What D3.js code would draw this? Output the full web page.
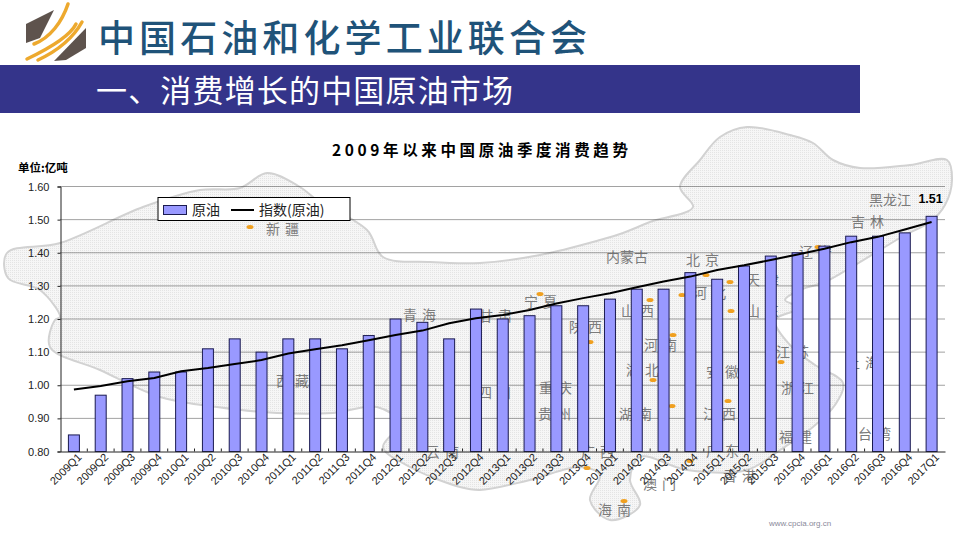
<!DOCTYPE html>
<html><head><meta charset="utf-8">
<script src="https://cdn.jsdelivr.net/npm/d3@7"></script>
<style>
html,body{margin:0;padding:0;background:#fff}
svg{display:block}
text{font-family:"Liberation Sans",Arial,sans-serif}
.cjk{font-family:"Noto Sans CJK SC",sans-serif}
</style></head><body><svg id="c" width="960" height="540"></svg>
<script>
const categories=["2009Q1","2009Q2","2009Q3","2009Q4","2010Q1","2010Q2","2010Q3","2010Q4","2011Q1","2011Q2","2011Q3","2011Q4","2012Q1","2012Q2","2012Q3","2012Q4","2013Q1","2013Q2","2013Q3","2013Q4","2014Q1","2014Q2","2014Q3","2014Q4","2015Q1","2015Q2","2015Q3","2015Q4","2016Q1","2016Q2","2016Q3","2016Q4","2017Q1"];
const crude=[0.85,0.97,1.02,1.04,1.04,1.11,1.14,1.10,1.14,1.14,1.11,1.15,1.20,1.19,1.14,1.23,1.20,1.21,1.24,1.24,1.26,1.29,1.29,1.34,1.32,1.36,1.39,1.40,1.42,1.45,1.45,1.46,1.51];
const trend=[0.987,0.998,1.012,1.022,1.042,1.052,1.064,1.076,1.096,1.109,1.121,1.136,1.152,1.165,1.187,1.202,1.212,1.227,1.247,1.263,1.278,1.296,1.313,1.328,1.348,1.362,1.378,1.395,1.412,1.432,1.448,1.470,1.493];
const yTicks=[0.8,0.9,1.0,1.1,1.2,1.3,1.4,1.5,1.6];
const orgName="中国石油和化学工业联合会", heading="一、消费增长的中国原油市场", chartTitle="2009年以来中国原油季度消费趋势", unit="单位:亿吨";
const seriesNames=["原油","指数(原油)"];

// Decorative background map (not data)
const mapOutline=[[7,253],[60,243],[143,207],[200,190],[240,188],[267,173],[300,187],[317,200],[367,230],[383,257],[430,262],[480,263],[540,255],[600,240],[623,233],[650,222],[693,207],[680,187],[700,160],[720,137],[747,127],[790,135],[813,143],[833,160],[860,168],[910,165],[947,160],[952,180],[945,205],[930,222],[905,235],[880,250],[850,268],[825,282],[800,290],[785,300],[800,308],[775,320],[790,345],[815,365],[843,383],[835,405],[813,427],[780,450],[747,470],[687,470],[640,457],[630,480],[640,505],[610,520],[590,500],[600,475],[580,467],[530,480],[480,490],[460,487],[410,467],[383,447],[400,423],[377,407],[333,413],[277,413],[217,407],[160,397],[100,370],[50,347],[55,320],[60,317],[40,290],[8,278]];
const mapLabels=[["新疆",285,229],["西藏",295,381],["青海",422,315],["甘肃",498,316],["宁夏",543,302],["内蒙古",627,257],["北京",705,260],["天津",765,280],["河北",712,293],["山西",640,311],["山东",765,311],["陕西",588,327],["河南",663,345],["吉林",870,222],["黑龙江",890,200],["辽宁",818,252],["江苏",795,352],["上海",865,363],["安徽",725,372],["湖北",645,370],["四川",497,393],["重庆",558,388],["浙江",800,388],["贵州",557,414],["湖南",638,414],["江西",722,414],["福建",798,437],["台湾",877,434],["云南",445,452],["广西",600,452],["广东",725,451],["香港",742,476],["澳门",662,484],["海南",617,510]];
const mapDots=[[250,227],[540,294],[650,300],[706,275],[730,282],[682,295],[731,311],[590,342],[673,335],[653,380],[672,406],[728,401],[781,362],[818,247],[690,461],[587,468],[624,501]];

const svg=d3.select("#c");
const defs=svg.append("defs");
const pat=defs.append("pattern").attr("id","st").attr("width",2).attr("height",2).attr("patternUnits","userSpaceOnUse");
pat.append("rect").attr("width",2).attr("height",2).attr("fill","#f6f6f6");
pat.append("rect").attr("width",1).attr("height",1).attr("fill","#e4e4e4");

// map
svg.append("path").attr("d",d3.line().curve(d3.curveCatmullRomClosed.alpha(.5))(mapOutline))
  .attr("fill","url(#st)").attr("stroke","#d2d2d2").attr("stroke-width",2);
svg.append("g").selectAll("text").data(mapLabels).join("text").attr("class","cjk")
  .attr("x",d=>d[1]).attr("y",d=>d[2]).attr("dy","0.36em").attr("text-anchor","middle")
  .attr("font-size",14).attr("letter-spacing",d=>d[0].length==2?5:0).attr("fill","#7b7b7b").text(d=>d[0]);
svg.append("g").selectAll("ellipse").data(mapDots).join("ellipse")
  .attr("cx",d=>d[0]).attr("cy",d=>d[1]).attr("rx",3.5).attr("ry",2).attr("fill","#f0a020");

// header
const logo=svg.append("g");
logo.append("path").attr("d","M26 24L54 10L40 38L26 43Z").attr("fill","#5e534d");
logo.append("path").attr("d","M54 61L86 28V48L66 60Z").attr("fill","#5e534d");
logo.append("g").attr("fill","none").attr("stroke","#eda92e").attr("stroke-linecap","round")
 .selectAll("path").data(["M34 44C50 38 62 22 68 4","M27 59C50 48 70 36 76 24","M38 60C55 52 72 40 82 22"]).join("path")
 .attr("d",d=>d).attr("stroke-width",3.5);
svg.append("text").attr("class","cjk").attr("x",98).attr("y",52).attr("font-size",37).attr("font-weight",500).attr("fill","#1f5379")
  .attr("textLength",489).attr("lengthAdjust","spacing").text(orgName);
svg.append("rect").attr("x",0).attr("y",65).attr("width",860).attr("height",48).attr("fill","#34348a");
svg.append("text").attr("class","cjk").attr("x",96).attr("y",102).attr("font-size",31).attr("fill","#fff")
  .attr("textLength",417).attr("lengthAdjust","spacing").text(heading);

// chart
const x=d3.scaleBand().domain(categories).range([60.5,945]).paddingInner(0.59).paddingOuter(0.295);
const y=d3.scaleLinear().domain([0.8,1.6]).range([451.5,186.5]);
const band=x.step();

svg.append("text").attr("class","cjk").attr("x",480).attr("y",156).attr("text-anchor","middle").attr("font-size",15.5).attr("font-weight",700)
  .attr("fill","#000").attr("textLength",296).attr("lengthAdjust","spacing").text(chartTitle);
svg.append("text").attr("class","cjk").attr("x",18).attr("y",172).attr("font-size",11.5).attr("font-weight",700).attr("fill","#000").text(unit);

svg.append("g").selectAll("line").data(yTicks.slice(1)).join("line")
  .attr("x1",60.5).attr("x2",945).attr("y1",d=>y(d)).attr("y2",d=>y(d))
  .attr("stroke","#444").attr("stroke-width",1).attr("stroke-dasharray","1 1");

svg.append("g").selectAll("rect").data(crude).join("rect")
  .attr("x",(d,i)=>x(categories[i])).attr("width",x.bandwidth())
  .attr("y",d=>y(d)).attr("height",d=>y(0.8)-y(d))
  .attr("fill","#9999ff").attr("stroke","#1a1a50").attr("stroke-width",1);

const yAxis=d3.axisLeft(y).tickValues(yTicks).tickFormat(d3.format(".2f")).tickSize(3).tickPadding(8);
const ga=svg.append("g").attr("transform","translate(60.5,0)").call(yAxis);
ga.selectAll("text").attr("font-size",11).attr("fill","#222");
ga.selectAll("line,path").attr("stroke","#222");

const xAxis=d3.axisBottom(x).tickSize(0).tickPadding(8);
const gx=svg.append("g").attr("transform","translate(0,451.5)").call(xAxis);
gx.select("path").attr("stroke","#222");
gx.selectAll("text").attr("font-size",11).attr("fill","#222").attr("text-anchor","end")
  .attr("transform","translate(-2,-4) rotate(-45)").attr("dy","0.6em");
svg.append("g").selectAll("line").data(categories.slice(1)).join("line")
  .attr("x1",d=>x(d)+x.bandwidth()/2-band/2).attr("x2",d=>x(d)+x.bandwidth()/2-band/2)
  .attr("y1",451.5).attr("y2",448.5).attr("stroke","#222");

svg.append("path").datum(trend).attr("fill","none").attr("stroke","#000").attr("stroke-width",2)
  .attr("d",d3.line().x((d,i)=>x(categories[i])+x.bandwidth()/2).y(d=>y(d)));

svg.append("text").attr("x",x(categories[32])+x.bandwidth()/2-1).attr("y",y(crude[32])-13).attr("text-anchor","middle")
  .attr("font-size",12.5).attr("font-weight",700).attr("fill","#000").text(crude[32].toFixed(2));

// legend
const lg=svg.append("g");
lg.append("rect").attr("x",158).attr("y",197.5).attr("width",192).attr("height",23).attr("fill","#fff").attr("stroke","#000");
lg.append("rect").attr("x",163.5).attr("y",205.5).attr("width",23).attr("height",9).attr("fill","#9999ff").attr("stroke","#1a1a50");
lg.append("text").attr("class","cjk").attr("x",192).attr("y",214.5).attr("font-size",14).attr("fill","#222").text(seriesNames[0]);
lg.append("line").attr("x1",231).attr("x2",254).attr("y1",210).attr("y2",210).attr("stroke","#000").attr("stroke-width",2);
lg.append("text").attr("class","cjk").attr("x",259).attr("y",214.5).attr("font-size",14).attr("fill","#222").text("指数(原油)");

svg.append("text").attr("x",800).attr("y",526).attr("font-size",8).attr("text-anchor","middle").attr("fill","#8a8a9a").attr("font-family","Liberation Serif").text("www.cpcia.org.cn");
</script></body></html>
